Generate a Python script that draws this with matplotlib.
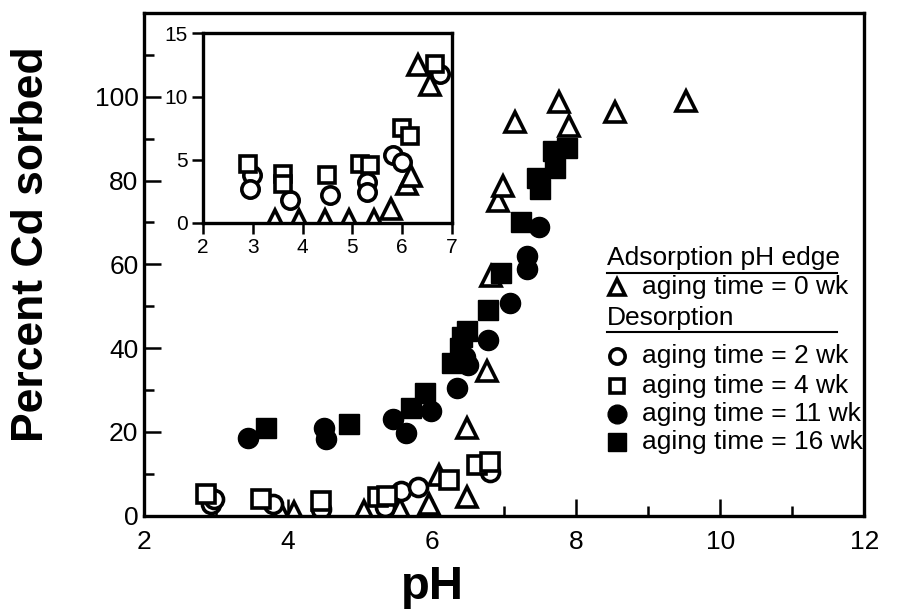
import numpy as np
import matplotlib.pyplot as plt
from matplotlib.ticker import MultipleLocator

plt.rcParams['font.family'] = ['Liberation Sans', 'DejaVu Sans']

# main plot data (pH, percent Cd sorbed)
tri_ph = [3.90, 4.08, 5.06, 5.55, 5.96, 6.10, 6.48, 6.48, 6.76, 6.82, 6.92, 6.99, 7.15, 7.76, 7.90, 8.54, 9.52]
tri_pc = [0.7, 1.0, 1.2, 1.5, 2.7, 9.7, 4.4, 21.0, 34.6, 57.3, 75.0, 78.8, 93.9, 98.8, 93.0, 96.3, 99.0]

oc_ph = [2.93, 2.97, 3.79, 4.45, 5.34, 5.57, 5.80, 6.80]
oc_pc = [2.7, 4.0, 2.8, 1.5, 2.0, 6.0, 6.8, 10.5]

os_ph = [2.86, 3.62, 4.46, 5.25, 5.37, 6.24, 6.62, 6.80]
os_pc = [5.2, 4.0, 3.6, 4.4, 4.8, 8.5, 12.2, 12.9]

fc_ph = [3.44, 4.50, 4.52, 5.46, 5.64, 5.99, 6.34, 6.45, 6.50, 6.78, 7.08, 7.31, 7.31, 7.48]
fc_pc = [18.5, 21.0, 18.3, 23.0, 19.8, 25.0, 30.6, 38.0, 36.0, 42.0, 50.7, 59.0, 62.0, 69.0]

fs_ph = [3.69, 4.85, 5.71, 5.90, 6.27, 6.38, 6.41, 6.48, 6.78, 6.96, 7.24, 7.45, 7.50, 7.70, 7.68, 7.87]
fs_pc = [21.0, 22.0, 25.6, 29.3, 36.5, 40.0, 42.6, 44.0, 49.0, 58.0, 70.0, 80.7, 78.0, 83.0, 87.0, 87.8]

# inset data (low-pH region)
in_tri_ph = [3.45, 3.92, 4.44, 4.94, 5.44, 5.78, 6.10, 6.18, 6.32, 6.56]
in_tri_pc = [0.2, 0.2, 0.2, 0.2, 0.2, 1.1, 3.1, 3.7, 12.5, 10.9]

in_oc_ph = [2.98, 2.94, 3.75, 4.55, 5.29, 5.29, 5.82, 5.99, 6.76]
in_oc_pc = [3.8, 2.7, 1.85, 2.2, 3.25, 2.45, 5.35, 4.8, 11.8]

in_os_ph = [2.91, 3.61, 3.61, 4.48, 5.15, 5.35, 5.99, 6.16, 6.66]
in_os_pc = [4.7, 3.9, 3.1, 3.8, 4.7, 4.6, 7.5, 6.9, 12.6]

legend_labels = ['aging time = 0 wk', 'aging time = 2 wk', 'aging time = 4 wk',
                 'aging time = 11 wk', 'aging time = 16 wk']

open_kw = dict(ls='none', mfc='white', mec='black', mew=2.6)
fill_kw = dict(ls='none', mfc='black', mec='black', mew=1)

fig = plt.figure(figsize=(9.06, 6.14), dpi=100)
ax = fig.add_axes([0.159, 0.160, 0.795, 0.819])

ax.plot(tri_ph, tri_pc, marker='^', ms=14, **open_kw)
ax.plot(oc_ph, oc_pc, marker='o', ms=13, **open_kw)
ax.plot(os_ph, os_pc, marker='s', ms=12.5, **open_kw)
ax.plot(fc_ph, fc_pc, marker='o', ms=14.5, **fill_kw)
ax.plot(fs_ph, fs_pc, marker='s', ms=14, **fill_kw)

ax.set_xlim(2, 12)
ax.set_ylim(0, 120)
ax.set_xticks([2, 4, 6, 8, 10, 12])
ax.set_yticks([0, 20, 40, 60, 80, 100])
ax.xaxis.set_minor_locator(MultipleLocator(1))
ax.yaxis.set_minor_locator(MultipleLocator(10))
ax.tick_params(which='both', direction='in', width=1.8, labelsize=19)
ax.tick_params(which='major', length=12)
ax.tick_params(which='minor', length=7)
ax.tick_params(axis='x', pad=10)
ax.tick_params(axis='y', pad=4)
for s in ax.spines.values():
    s.set_linewidth(2.4)

ax.set_xlabel('pH', fontsize=34, fontweight='bold')
ax.xaxis.set_label_coords(0.40, -0.097)
ax.set_ylabel('Percent Cd sorbed', fontsize=32, fontweight='bold')
ax.yaxis.set_label_coords(-0.128, 0.54)

# legend drawn by hand
tx = 0.643
mx = 0.657
lx = 0.691
fs = 19
ax.text(tx, 0.512, 'Adsorption pH edge', transform=ax.transAxes, fontsize=fs, va='center')
ax.plot([tx, 0.962], [0.482, 0.482], transform=ax.transAxes, color='black', lw=1.5, clip_on=False)
ax.text(tx, 0.393, 'Desorption', transform=ax.transAxes, fontsize=fs, va='center')
ax.plot([tx, 0.962], [0.366, 0.366], transform=ax.transAxes, color='black', lw=1.5, clip_on=False)

leg_y = [0.454, 0.317, 0.259, 0.202, 0.146]
leg_m = [('^', open_kw, 12), ('o', open_kw, 11), ('s', open_kw, 10.5), ('o', fill_kw, 13.5), ('s', fill_kw, 13)]
for y, (m, kw, ms), lab in zip(leg_y, leg_m, legend_labels):
    ax.plot([mx], [y], marker=m, ms=ms, transform=ax.transAxes, clip_on=False, **kw)
    ax.text(lx, y, lab, transform=ax.transAxes, fontsize=fs, va='center')

# inset
ax2 = fig.add_axes([0.224, 0.637, 0.275, 0.3085])
ax2.set_facecolor('white')
ax2.plot(in_tri_ph, in_tri_pc, marker='^', ms=14, **open_kw)
ax2.plot(in_oc_ph, in_oc_pc, marker='o', ms=12.5, **open_kw)
ax2.plot(in_os_ph, in_os_pc, marker='s', ms=12, **open_kw)
ax2.set_xlim(2, 7)
ax2.set_ylim(0, 15)
ax2.set_xticks([2, 3, 4, 5, 6, 7])
ax2.set_yticks([0, 5, 10, 15])
ax2.tick_params(direction='out', length=8, width=1.8, labelsize=15, pad=3)
for s in ax2.spines.values():
    s.set_linewidth(2.4)

fig.savefig('out.png', dpi=100)
